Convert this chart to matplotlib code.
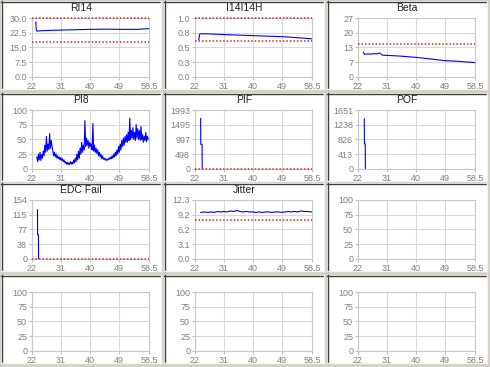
import matplotlib
matplotlib.use("Agg")
import matplotlib.pyplot as plt
from matplotlib.patches import Rectangle
from matplotlib.lines import Line2D
import numpy as np

plt.rcParams['font.family'] = ['Liberation Sans', 'DejaVu Sans']

W, H = 490, 367

# x axis shared by every panel
x_ticks = [22, 31, 40, 49, 58.5]

# RI14
ri14_x = [23.2, 23.3, 23.5, 25, 30, 35, 40, 45, 50, 55, 58.5]
ri14_y = [28.0, 24.5, 23.3, 23.5, 23.8, 24.0, 24.2, 24.3, 24.2, 24.2, 24.6]
ri14_ticks = [0.0, 7.5, 15.0, 22.5, 30.0]
ri14_limits = [30.0, 17.8]

# I14I14H
i14_x = [23.2, 23.4, 23.6, 26, 30, 35, 40, 45, 50, 55, 58.5]
i14_y = [0.63, 0.72, 0.73, 0.73, 0.72, 0.71, 0.70, 0.69, 0.68, 0.66, 0.645]
i14_ticks = [0.0, 0.25, 0.5, 0.75, 1.0]
i14_labels = ["0.0", "0.3", "0.5", "0.8", "1.0"]
i14_limits = [1.0, 0.6]

# Beta
beta_x = [23.7, 24.0, 25, 26, 27, 28, 28.6, 29.2, 29.7, 31, 35, 40, 45, 49, 53, 58.5]
beta_y = [11.3, 10.3, 10.5, 10.4, 10.6, 10.5, 11.0, 10.4, 9.9, 9.8, 9.5, 8.9, 8.1, 7.4, 7.1, 6.5]
beta_ticks = [0, 6.75, 13.5, 20.25, 27]
beta_labels = ["0", "7", "13", "20", "27"]
beta_limits = [15.0]

# PI8 (one sample every 0.25 from 23.5)
pi8_y = [20, 12, 25, 15, 28, 14, 24, 18, 30, 22, 40, 28, 55, 30, 42, 33,
         60, 35, 48, 38, 30, 22, 28, 20, 25, 18, 22, 17, 20, 15, 19, 14,
         17, 12, 15, 10, 12, 8, 11, 7, 10, 7, 12, 8, 11, 8, 15, 10,
         18, 12, 25, 15, 30, 18, 35, 25, 45, 28, 40, 32, 82, 38, 52, 40,
         48, 35, 45, 38, 42, 32, 77, 30, 40, 28, 35, 26, 32, 22, 28, 20,
         25, 17, 22, 16, 18, 15, 17, 14, 16, 15, 18, 16, 20, 17, 22, 18,
         25, 20, 28, 22, 32, 25, 38, 28, 42, 32, 48, 38, 52, 40, 55, 45,
         58, 45, 62, 48, 86, 50, 65, 52, 70, 50, 62, 48, 75, 52, 68, 50,
         65, 48, 72, 50, 58, 45, 55, 48, 62, 46, 55, 50]
pi8_x = 23.5 + 0.25 * np.arange(len(pi8_y))
pct_ticks = [0, 25, 50, 75, 100]

# PIF
pif_x = [23.75, 23.8, 24.2, 24.25]
pif_y = [1700, 830, 830, 0]
pif_ticks = [0, 498.25, 996.5, 1494.75, 1993]
pif_labels = ["0", "498", "997", "1495", "1993"]
pif_limits = [0]

# POF
pof_x = [23.95, 24.0, 24.25, 24.3]
pof_y = [1400, 700, 700, 0]
pof_ticks = [0, 412.75, 825.5, 1238.25, 1651]
pof_labels = ["0", "413", "826", "1238", "1651"]

# EDC Fail
edc_x = [23.7, 23.75, 24.0, 24.05]
edc_y = [128, 63, 63, 0]
edc_ticks = [0, 38.5, 77, 115.5, 154]
edc_labels = ["0", "38", "77", "115", "154"]
edc_limits = [0]

# Jitter
jit_x = [23.8, 25, 26, 27, 28, 29, 30, 31, 32, 33, 34, 35, 36, 37, 38, 39, 40,
         41, 42, 43, 44, 45, 46, 47, 48, 49, 50, 51, 52, 53, 54, 55, 56, 57, 58.5]
jit_y = [9.7, 9.8, 9.7, 9.8, 9.7, 9.9, 9.8, 9.9, 9.8, 10.0, 9.9, 10.1, 9.9, 9.8, 9.9, 9.8, 9.8,
         9.7, 9.8, 9.7, 9.8, 9.8, 9.7, 9.8, 9.8, 9.7, 9.8, 9.9, 9.8, 9.9, 9.8, 10.0, 9.9, 9.9, 9.8]
jit_ticks = [0, 3.075, 6.15, 9.225, 12.3]
jit_labels = ["0.0", "3.1", "6.2", "9.2", "12.3"]
jit_limits = [8.1]

panels = [
    ("RI14", ri14_x, ri14_y, ri14_ticks, ["0.0", "7.5", "15.0", "22.5", "30.0"], ri14_limits),
    ("I14I14H", i14_x, i14_y, i14_ticks, i14_labels, i14_limits),
    ("Beta", beta_x, beta_y, beta_ticks, beta_labels, beta_limits),
    ("PI8", pi8_x, pi8_y, pct_ticks, [str(t) for t in pct_ticks], []),
    ("PIF", pif_x, pif_y, pif_ticks, pif_labels, pif_limits),
    ("POF", pof_x, pof_y, pof_ticks, pof_labels, []),
    ("EDC Fail", edc_x, edc_y, edc_ticks, edc_labels, edc_limits),
    ("Jitter", jit_x, jit_y, jit_ticks, jit_labels, jit_limits),
    ("", None, None, pct_ticks, [str(t) for t in pct_ticks], []),
    ("", None, None, pct_ticks, [str(t) for t in pct_ticks], []),
    ("", None, None, pct_ticks, [str(t) for t in pct_ticks], []),
    ("", None, None, pct_ticks, [str(t) for t in pct_ticks], []),
]

fig = plt.figure(figsize=(W / 100, H / 100), dpi=100)
fig.patch.set_facecolor("#d4d0c8")

col_left = [1, 164, 327]
row_top = [1, 93, 183, 275]
panel_w, panel_h = 160, 88


def frac(x, y, w, h):
    # pixel box (top-left origin) -> figure fraction
    return [x / W, 1 - (y + h) / H, w / W, h / H]


def hline(x0, x1, y, color):
    fig.add_artist(Line2D([x0 / W, x1 / W], [1 - y / H, 1 - y / H], color=color,
                          lw=1, transform=fig.transFigure, zorder=-1))


def vline(x, y0, y1, color):
    fig.add_artist(Line2D([x / W, x / W], [1 - y0 / H, 1 - y1 / H], color=color,
                          lw=1, transform=fig.transFigure, zorder=-1))


for i, (title, xs, ys, yt, yl, limits) in enumerate(panels):
    r, c = divmod(i, 3)
    px, py = col_left[c], row_top[r]

    b = frac(px, py, panel_w, panel_h)
    fig.add_artist(Rectangle((b[0], b[1]), b[2], b[3], transform=fig.transFigure,
                             facecolor="white", edgecolor="none", zorder=-2))
    hline(px, px + panel_w, py + 0.5, "#404040")
    vline(px + 0.5, py, py + panel_h, "#404040")
    hline(px, px + panel_w, py + panel_h - 0.5, "#f4f4f4")
    vline(px + panel_w - 0.5, py, py + panel_h, "#f4f4f4")

    if title:
        fig.text((px + panel_w / 2) / W, 1 - (py + 7) / H, title, ha="center",
                 va="center", fontsize=7.5, color="#202020")

    ax = fig.add_axes(frac(px + 31, py + 17, 117, 58.7))
    ax.set_facecolor("white")
    ax.set_xlim(22, 58.5)
    ax.set_ylim(yt[0], yt[-1])
    ax.set_xticks(x_ticks)
    ax.set_xticklabels(["22", "31", "40", "49", "58.5"])
    ax.set_yticks(yt)
    ax.set_yticklabels(yl)
    ax.grid(True, color="#d8d8d8", lw=0.8)
    ax.set_axisbelow(True)
    for s in ax.spines.values():
        s.set_color("#c8c8c8")
        s.set_linewidth(0.8)
    ax.tick_params(labelsize=6.5, colors="#c0c0c0", labelcolor="#808080",
                   length=2, width=0.8, pad=1.5)

    if xs is not None:
        ax.plot(xs, ys, color="#0000ff", lw=0.8, clip_on=True)
    for v in limits:
        ax.axhline(v, color="#e02020", lw=1.1, ls=(0, (1, 1.3)), clip_on=False, zorder=3)

fig.savefig("out.png", dpi=100, facecolor=fig.get_facecolor())
